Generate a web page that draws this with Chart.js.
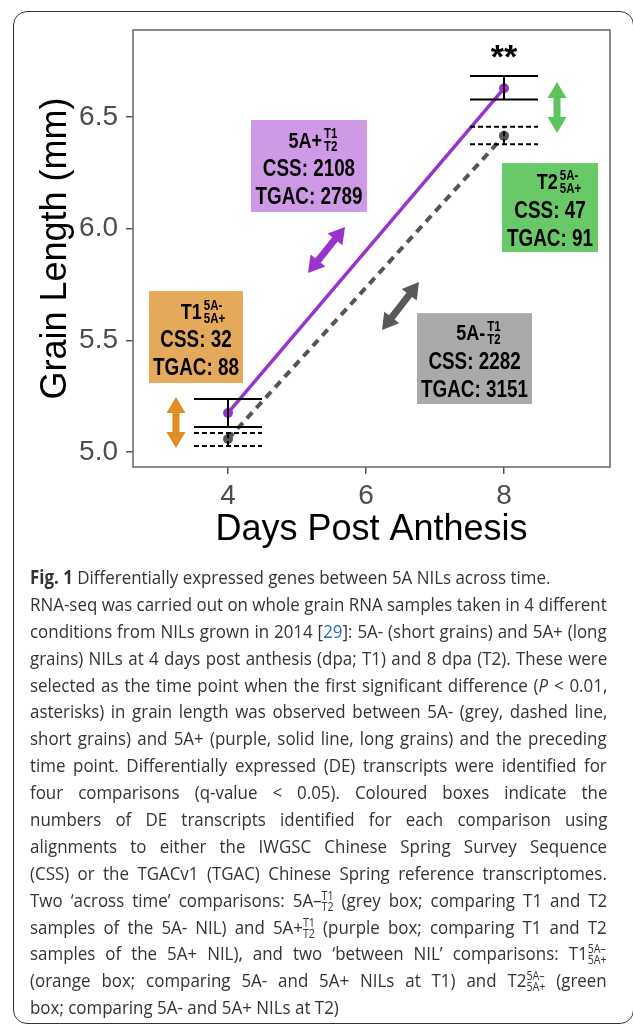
<!DOCTYPE html>
<html>
<head>
<meta charset="utf-8">
<script src="https://cdn.jsdelivr.net/npm/chart.js@4.4.1/dist/chart.umd.min.js"></script>
<style>
  html, body { margin: 0; padding: 0; background: #fff; }
  body { width: 633px; height: 1027px; position: relative; overflow: hidden; }
  #moldura { position: absolute; left: 13px; top: 11px; width: 621px; height: 1013px; box-sizing: border-box; border: 1.5px solid #333; border-radius: 14px; }
  #area-grafico { position: absolute; left: 0; top: 0; width: 633px; height: 575px; }
  #legenda { position: absolute; left: 30px; top: 564px; width: 577px; font-family: "Open Sans", sans-serif; font-size: 19px; color: #333; transform-origin: 0 0; }
  .ln { height: 26.9px; line-height: 26.9px; white-space: nowrap; }
  .ln > span { display: inline-block; }
  .st { display: inline-flex; flex-direction: column; font-size: 12px; line-height: 11px; vertical-align: 7px; }
  .ref { color: #2a6ebb; }
</style>
</head>
<body>
<div id="moldura"></div>
<div id="area-grafico"><canvas id="grafico"></canvas></div>
<div id="legenda"></div>

<script>
// Dados (comprimento do grão, mm)
const dias = [4, 8];
const compCurto = [5.058, 6.416];        // 5A- (cinza, tracejado)
const compLongo = [5.175, 6.629];        // 5A+ (roxo, contínuo)
const erroCurtoInf = [5.027, 6.378];
const erroCurtoSup = [5.085, 6.457];
const erroLongoInf = [5.112, 6.579];
const erroLongoSup = [5.237, 6.684];

const ticksX = [4, 6, 8];
const ticksY = [5.0, 5.5, 6.0, 6.5];

// Caixas com o número de transcritos DE
const caixaRotulo = ['5A+', 'T2', 'T1', '5A-'];
const caixaIndice = [['T1', 'T2'], ['5A-', '5A+'], ['5A-', '5A+'], ['T1', 'T2']];
const caixaCSS = [2108, 47, 32, 2282];
const caixaTGAC = [2789, 91, 88, 3151];

// Posição das caixas e setas (em unidades dos eixos)
const caixaPos = [
    { x0: 4.333, x1: 6.014, y0: 6.075, y1: 6.487, desl: 4, cor: '#CE9AE6' },
    { x0: 7.971, x1: 9.362, y0: 5.896, y1: 6.294, desl: 9, cor: '#69C969' },
    { x0: 2.855, x1: 4.217, y0: 5.309, y1: 5.721, desl: 7, cor: '#E5A95B' },
    { x0: 6.739, x1: 8.406, y0: 5.215, y1: 5.622, desl: 4, cor: '#AAAAAA' }
];
const setas = [
    { x1: 5.159, y1: 5.802, x2: 5.696, y2: 6.008, cor: '#9933CC' },
    { x1: 8.768, y1: 6.429, x2: 8.768, y2: 6.657, cor: '#5CC45C' },
    { x1: 3.246, y1: 5.018, x2: 3.246, y2: 5.246, cor: '#E08E22' },
    { x1: 6.232, y1: 5.546, x2: 6.768, y2: 5.761, cor: '#595959' }
];
const significancia = { x: 8, y: 6.787, texto: '**' };

const FONTE = '"Liberation Sans", Arial, sans-serif';

function pilha(a, b) {
    return '<span class="st"><span>' + a + '</span><span>' + b + '</span></span>';
}

const linhasLegenda = [
    '<b>Fig. 1</b> Differentially expressed genes between 5A NILs across time.',
    'RNA-seq was carried out on whole grain RNA samples taken in 4 different',
    'conditions from NILs grown in 2014 [<span class="ref">29</span>]: 5A- (short grains) and 5A+ (long',
    'grains) NILs at 4 days post anthesis (dpa; T1) and 8 dpa (T2). These were',
    'selected as the time point when the first significant difference (<i>P</i> &lt; 0.01,',
    'asterisks) in grain length was observed between 5A- (grey, dashed line,',
    'short grains) and 5A+ (purple, solid line, long grains) and the preceding',
    'time point. Differentially expressed (DE) transcripts were identified for',
    'four comparisons (q-value &lt; 0.05). Coloured boxes indicate the',
    'numbers of DE transcripts identified for each comparison using',
    'alignments to either the IWGSC Chinese Spring Survey Sequence',
    '(CSS) or the TGACv1 (TGAC) Chinese Spring reference transcriptomes.',
    'Two \u2018across time\u2019 comparisons: 5A\u2013' + pilha('T1', 'T2') + ' (grey box; comparing T1 and T2',
    'samples of the 5A- NIL) and 5A+' + pilha('T1', 'T2') + ' (purple box; comparing T1 and T2',
    'samples of the 5A+ NIL), and two \u2018between NIL\u2019 comparisons: T1' + pilha('5A\u2013', '5A+'),
    '(orange box; comparing 5A- and 5A+ NILs at T1) and T2' + pilha('5A\u2013', '5A+') + ' (green',
    'box; comparing 5A- and 5A+ NILs at T2)'
];

// texto condensado (a fonte da figura é estreita)
function textoEstreito(ctx, txt, x, y, fonte, esc) {
    ctx.save();
    ctx.font = fonte;
    ctx.translate(x, y);
    ctx.scale(esc, 1);
    ctx.fillText(txt, 0, 0);
    ctx.restore();
}
function larguraEstreita(ctx, txt, fonte, esc) {
    ctx.font = fonte;
    return ctx.measureText(txt).width * esc;
}

function setaDupla(ctx, x1, y1, x2, y2, cor) {
    const dx = x2 - x1, dy = y2 - y1, len = Math.hypot(dx, dy);
    const ux = dx / len, uy = dy / len, nx = -uy, ny = ux;
    const hl = 16, hw = 9.5, sw = 3.5;
    const pts = [[0, 0], [hl, hw], [hl, sw], [len - hl, sw], [len - hl, hw], [len, 0],
                 [len - hl, -hw], [len - hl, -sw], [hl, -sw], [hl, -hw]];
    ctx.beginPath();
    pts.forEach(([a, b], i) => {
        const px = x1 + ux * a + nx * b, py = y1 + uy * a + ny * b;
        if (i) ctx.lineTo(px, py); else ctx.moveTo(px, py);
    });
    ctx.closePath();
    ctx.fillStyle = cor;
    ctx.fill();
}

function barraErro(ctx, px, yInf, ySup, tracejado) {
    ctx.save();
    ctx.strokeStyle = '#000';
    ctx.lineWidth = 2;
    ctx.setLineDash(tracejado ? [5, 3] : []);
    ctx.beginPath();
    ctx.moveTo(px - 34, yInf); ctx.lineTo(px + 34, yInf);
    ctx.moveTo(px - 34, ySup); ctx.lineTo(px + 34, ySup);
    ctx.moveTo(px, yInf); ctx.lineTo(px, ySup);
    ctx.stroke();
    ctx.restore();
}

const plugAnotacoes = {
    id: 'anotacoes',
    beforeDatasetsDraw(chart) {
        const { ctx, chartArea: a } = chart;
        ctx.save();
        ctx.strokeStyle = '#666';
        ctx.lineWidth = 1.5;
        ctx.strokeRect(a.left, a.top, a.right - a.left, a.bottom - a.top);
        ctx.restore();
    },
    afterDatasetsDraw(chart) {
        const { ctx } = chart;
        const sx = chart.scales.x, sy = chart.scales.y;

        // barras de erro
        dias.forEach((d, i) => {
            const px = sx.getPixelForValue(d);
            barraErro(ctx, px, sy.getPixelForValue(erroLongoInf[i]), sy.getPixelForValue(erroLongoSup[i]), false);
            barraErro(ctx, px, sy.getPixelForValue(erroCurtoInf[i]), sy.getPixelForValue(erroCurtoSup[i]), true);
        });

        // setas
        setas.forEach(s => {
            setaDupla(ctx, sx.getPixelForValue(s.x1), sy.getPixelForValue(s.y1),
                      sx.getPixelForValue(s.x2), sy.getPixelForValue(s.y2), s.cor);
        });

        // caixas
        ctx.save();
        ctx.textAlign = 'left';
        ctx.textBaseline = 'alphabetic';
        ctx.fillStyle = '#000';
        const esc = 0.82;
        const fGrande = 'bold 23px ' + FONTE;
        const fTitulo = 'bold 22px ' + FONTE;
        const fPeq = 'bold 14px ' + FONTE;
        caixaPos.forEach((c, i) => {
            const l = sx.getPixelForValue(c.x0), r = sx.getPixelForValue(c.x1);
            const t = sy.getPixelForValue(c.y1), b = sy.getPixelForValue(c.y0);
            ctx.fillStyle = c.cor;
            ctx.fillRect(l, t, r - l, b - t);
            ctx.fillStyle = '#000';
            const cx = (l + r) / 2, cy = (t + b) / 2;

            // primeira linha: rótulo + índices empilhados
            const wm = larguraEstreita(ctx, caixaRotulo[i], fTitulo, esc);
            const ws = Math.max(larguraEstreita(ctx, caixaIndice[i][0], fPeq, esc),
                                larguraEstreita(ctx, caixaIndice[i][1], fPeq, esc));
            const x0 = cx + c.desl - (wm + 2 + ws) / 2;
            const cap = cy - 26;
            textoEstreito(ctx, caixaRotulo[i], x0, cap + 0.716 * 22 / 2, fTitulo, esc);
            textoEstreito(ctx, caixaIndice[i][0], x0 + wm + 2, cap - 6.5 + 5, fPeq, esc);
            textoEstreito(ctx, caixaIndice[i][1], x0 + wm + 2, cap + 6.5 + 5, fPeq, esc);

            const l2 = 'CSS: ' + caixaCSS[i], l3 = 'TGAC: ' + caixaTGAC[i];
            const w2 = larguraEstreita(ctx, l2, fGrande, esc), w3 = larguraEstreita(ctx, l3, fGrande, esc);
            textoEstreito(ctx, l2, cx - w2 / 2, cy + 2 + 8.2, fGrande, esc);
            textoEstreito(ctx, l3, cx - w3 / 2, cy + 30 + 8.2, fGrande, esc);
        });

        // asteriscos de significância
        ctx.font = 'bold 34px ' + FONTE;
        ctx.textAlign = 'center';
        ctx.fillText(significancia.texto, sx.getPixelForValue(significancia.x),
                     sy.getPixelForValue(significancia.y) + 0.45 * 34);
        ctx.restore();
    }
};

const ctx = document.getElementById('grafico').getContext('2d');

new Chart(ctx, {
    type: 'line',
    data: {
        datasets: [
            {
                label: '5A-',
                data: dias.map((d, i) => ({ x: d, y: compCurto[i] })),
                borderColor: '#555555',
                borderWidth: 4,
                borderDash: [8, 6],
                pointRadius: 5,
                pointBorderWidth: 0,
                pointBackgroundColor: '#555555',
                tension: 0
            },
            {
                label: '5A+',
                data: dias.map((d, i) => ({ x: d, y: compLongo[i] })),
                borderColor: '#9933CC',
                borderWidth: 3.5,
                pointRadius: 5,
                pointBorderWidth: 0,
                pointBackgroundColor: '#9933CC',
                tension: 0
            }
        ]
    },
    options: {
        responsive: true,
        maintainAspectRatio: false,
        animation: false,
        layout: { padding: { left: 0, right: 23, top: 30, bottom: 0 } },
        plugins: { legend: { display: false }, tooltip: { enabled: false } },
        scales: {
            x: {
                type: 'linear',
                min: 2.623,
                max: 9.536,
                afterBuildTicks: s => { s.ticks = ticksX.map(v => ({ value: v })); },
                afterFit: s => { s.height = 108; },
                grid: { display: true, drawOnChartArea: false, drawTicks: true, tickLength: 7, color: '#555', lineWidth: 1.5 },
                border: { display: false },
                ticks: { color: '#4D4D4D', padding: 5, font: { family: FONTE, size: 28 } },
                title: { display: true, text: 'Days Post Anthesis', color: '#000',
                         font: { family: FONTE, size: 36, lineHeight: 1.2 }, padding: { top: 0, bottom: 23 } }
            },
            y: {
                type: 'linear',
                min: 4.933,
                max: 6.89,
                afterBuildTicks: s => { s.ticks = ticksY.map(v => ({ value: v })); },
                afterFit: s => { s.width = 133; },
                grid: { display: true, drawOnChartArea: false, drawTicks: true, tickLength: 7, color: '#555', lineWidth: 1.5 },
                border: { display: false },
                ticks: { color: '#4D4D4D', padding: 8, font: { family: FONTE, size: 28 },
                         callback: v => v.toFixed(1) },
                title: { display: true, text: 'Grain Length (mm)', color: '#000',
                         font: { family: FONTE, size: 36, lineHeight: 1.2 }, padding: { top: 34, bottom: 0 } }
            }
        }
    },
    plugins: [plugAnotacoes]
});

// LEGENDA (texto justificado linha a linha)
const legenda = document.getElementById('legenda');
linhasLegenda.forEach(h => {
    const div = document.createElement('div');
    div.className = 'ln';
    div.innerHTML = '<span>' + h + '</span>';
    legenda.appendChild(div);
});

function justificar() {
    const W = 577;
    const linhas = Array.from(legenda.querySelectorAll('.ln > span'));
    const larg = linhas.map(s => s.offsetWidth);
    const justif = linhas.map((s, i) => i > 0 && i < linhas.length - 1);
    // escala horizontal pela linha mais larga, para nenhuma ficar com espaço negativo
    const k = Math.min(...larg.filter((w, i) => justif[i]).map(w => W / w));
    legenda.style.transform = 'scaleX(' + k + ')';
    linhas.forEach((s, i) => {
        if (!justif[i]) return;
        const n = (s.textContent.match(/ /g) || []).length;
        s.style.wordSpacing = ((W / k - larg[i]) / n) + 'px';
    });
}
if (document.fonts && document.fonts.ready) document.fonts.ready.then(justificar); else justificar();
</script>
</body>
</html>
